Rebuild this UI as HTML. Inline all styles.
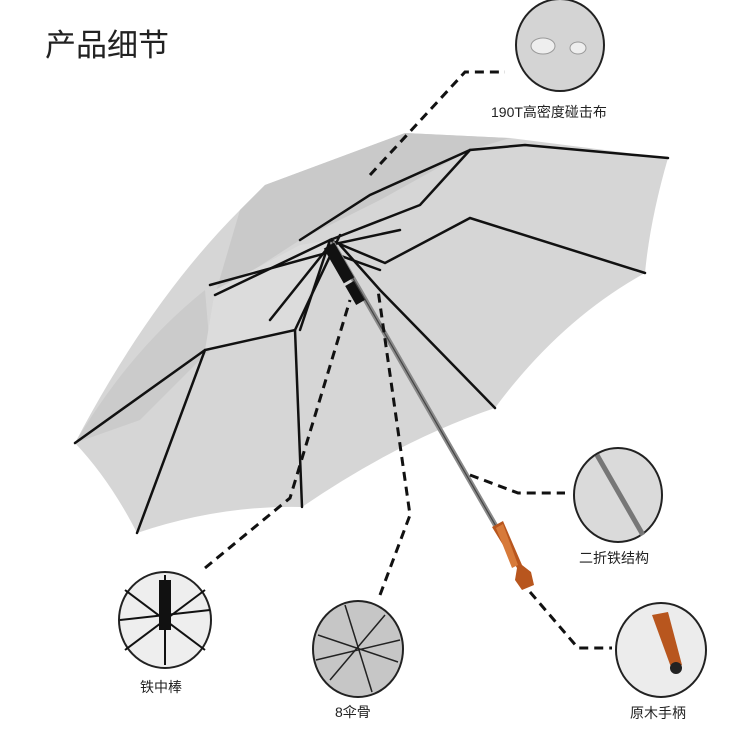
<!DOCTYPE html>
<html><head><meta charset="utf-8"><style>
html,body{margin:0;padding:0;background:#fff;}
body{width:750px;height:735px;overflow:hidden;position:relative;font-family:"Liberation Sans","Noto Sans CJK SC",sans-serif;}
.t{position:absolute;color:#222;white-space:nowrap;}
</style></head><body>
<svg width="750" height="735" viewBox="0 0 750 735" style="position:absolute;left:0;top:0">
<!-- canopy -->
<path d="M75,443 Q150,300 240,210 L265,185 L405,133 L510,138 L668,158 Q650,220 645,273 Q560,320 495,408 Q400,440 302,507 Q220,505 137,533 Q110,480 75,443 Z" fill="#d6d6d6"/>
<path d="M240,210 L265,185 L405,133 L510,138 L470,150 L380,200 L300,240 L215,295 Z" fill="#c9c9c9"/>
<path d="M75,443 Q130,350 205,290 L210,350 L140,420 Z" fill="#cbcbcb"/>
<path d="M205,350 L295,330 L330,240 L300,245 L215,290 Z" fill="#dcdcdc"/>
<g stroke="#111" stroke-width="2.5" fill="none" stroke-linecap="round">
<path d="M75,443 L205,350 L295,330 L302,507"/>
<path d="M137,533 L205,350"/>
<path d="M295,330 L340,235"/>
<path d="M495,408 L380,290 L340,245"/>
<path d="M645,273 L470,218 L385,263 L330,240"/>
<path d="M668,158 L525,145 L470,150 L420,205 L330,240"/>
<path d="M470,150 L370,195 L300,240"/>
<path d="M215,295 L330,240 L300,330"/>
<path d="M210,285 L330,252 L380,270"/>
<path d="M270,320 L330,245 L400,230"/>
</g>
<line x1="332" y1="242" x2="497" y2="528" stroke="#8a8a8a" stroke-width="5"/>
<line x1="332" y1="242" x2="497" y2="528" stroke="#444" stroke-width="1.2"/>
<rect x="333" y="243" width="12" height="40" fill="#111" transform="rotate(-30 339 263)"/>
<rect x="350" y="282" width="10" height="22" fill="#111" transform="rotate(-30 355 293)"/>
<path d="M492,527 L503,521 L522,565 L531,572 L534,585 L522,590 L515,580 L517,568 Z" fill="#b8561e"/>
<path d="M496,528 L503,524 L518,565 L512,568 Z" fill="#d77a3a"/>
<g stroke="#111" stroke-width="3" fill="none" stroke-dasharray="9,6">
<path d="M370,175 L465,72 L505,72"/>
<path d="M205,568 L290,498 L350,300"/>
<path d="M380,595 L410,515 L378,290"/>
<path d="M470,475 L518,493 L565,493"/>
<path d="M530,592 L578,648 L612,648"/>
</g>
<ellipse cx="560" cy="45" rx="44" ry="46" fill="#d4d4d4" stroke="#222" stroke-width="2"/>
<ellipse cx="543" cy="46" rx="12" ry="8" fill="#eee" stroke="#999"/>
<ellipse cx="578" cy="48" rx="8" ry="6" fill="#eee" stroke="#999"/>
<ellipse cx="618" cy="495" rx="44" ry="47" fill="#dadada" stroke="#222" stroke-width="2"/>
<line x1="597" y1="455" x2="643" y2="535" stroke="#777" stroke-width="5"/>
<ellipse cx="661" cy="650" rx="45" ry="47" fill="#ececec" stroke="#222" stroke-width="2"/>
<path d="M652,615 L668,612 L682,665 L672,670 Z" fill="#b8561e"/>
<circle cx="676" cy="668" r="6" fill="#222"/>
<ellipse cx="165" cy="620" rx="46" ry="48" fill="#eee" stroke="#222" stroke-width="2"/>
<g stroke="#111" stroke-width="2"><line x1="125" y1="590" x2="205" y2="650"/><line x1="205" y1="590" x2="125" y2="650"/><line x1="120" y1="620" x2="210" y2="610"/><line x1="165" y1="575" x2="165" y2="665"/></g>
<rect x="159" y="580" width="12" height="50" fill="#111"/>
<ellipse cx="358" cy="649" rx="45" ry="48" fill="#c6c6c6" stroke="#222" stroke-width="2"/>
<g stroke="#222" stroke-width="1.5"><line x1="318" y1="635" x2="398" y2="662"/><line x1="330" y1="680" x2="385" y2="615"/><line x1="345" y1="605" x2="372" y2="692"/><line x1="316" y1="660" x2="400" y2="640"/></g>
</svg>
<div class="t" style="left:45px;top:20px;font-size:31px;">产品细节</div>
<div class="t" style="left:491px;top:102px;font-size:14px;">190T高密度碰击布</div>
<div class="t" style="left:579px;top:548px;font-size:14px;">二折铁结构</div>
<div class="t" style="left:630px;top:703px;font-size:14px;">原木手柄</div>
<div class="t" style="left:140px;top:677px;font-size:14px;">铁中棒</div>
<div class="t" style="left:335px;top:702px;font-size:14px;">8伞骨</div>
</body></html>
